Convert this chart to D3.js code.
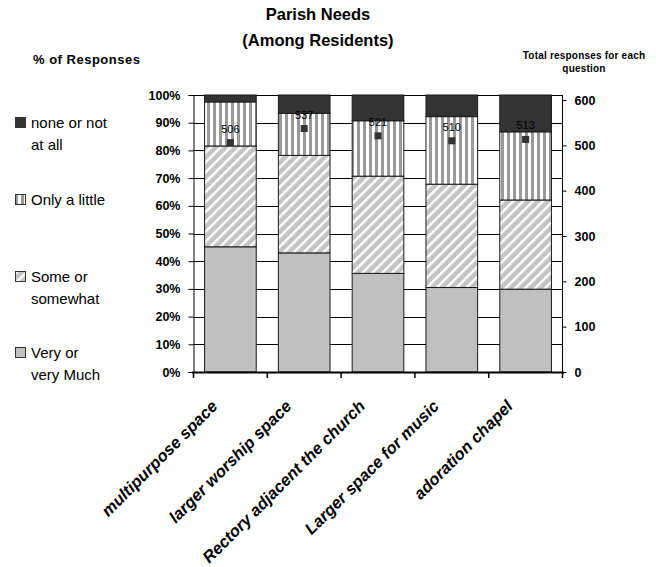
<!DOCTYPE html>
<html>
<head>
<meta charset="utf-8">
<script src="https://cdn.jsdelivr.net/npm/d3@7"></script>
<style>
  body { margin: 0; background: #fff; }
  text { font-family: "Liberation Sans", Arial, sans-serif; }
</style>
</head>
<body>
<div id="theChart"></div>
<script>
// data
const questions = ["multipurpose space", "larger worship space", "Rectory adjacent the church", "Larger space for music", "adoration chapel"]
const veryMuch = [45.2, 43.0, 35.6, 30.5, 29.9]
const somewhat = [36.4, 35.2, 35.1, 37.3, 32.2]
const onlyLittle = [15.9, 15.2, 20.0, 24.4, 24.6]
const noneAtAll = [2.5, 6.6, 9.3, 7.8, 13.3]
const totals = [506, 537, 521, 510, 513]
const pctTicks = [0, 10, 20, 30, 40, 50, 60, 70, 80, 90, 100]
const countTicks = [0, 100, 200, 300, 400, 500, 600]

const seriesNames = ["Very or very Much", "Some or somewhat", "Only a little", "none or not at all"]
const seriesVals = [veryMuch, somewhat, onlyLittle, noneAtAll]
const fills = ["#c0c0c0", "url(#diag)", "url(#vert)", "#333333"]

const w = 656
const h = 567

const svg = d3.select("#theChart")
	.append("svg")
	.attr("width", w)
	.attr("height", h)

// patterns
const defs = svg.append("defs")
const vert = defs.append("pattern")
	.attr("id", "vert")
	.attr("patternUnits", "userSpaceOnUse")
	.attr("width", 6)
	.attr("height", 6)
vert.append("rect").attr("width", 6).attr("height", 6).attr("fill", "#fff")
vert.append("rect").attr("x", 3).attr("width", 3).attr("height", 6).attr("fill", "#999")

const diag = defs.append("pattern")
	.attr("id", "diag")
	.attr("patternUnits", "userSpaceOnUse")
	.attr("width", 7)
	.attr("height", 7)
	.attr("patternTransform", "rotate(45)")
diag.append("rect").attr("width", 7).attr("height", 7).attr("fill", "#c4c4c4")
diag.append("rect").attr("width", 2.4).attr("height", 7).attr("fill", "#fff")

const x = d3.scaleBand()
	.domain(questions)
	.range([193.5, 562.5])
	.paddingInner(0.3)
	.paddingOuter(0.15)

const y = d3.scaleLinear().domain([0, 100]).range([372, 95])
const yR = d3.scaleLinear().domain([0, 600]).range([372, 100])

// gridlines
svg.append("g")
	.selectAll("line")
	.data(pctTicks.slice(1))
	.enter()
	.append("line")
	.attr("x1", 193.5)
	.attr("x2", 562.5)
	.attr("y1", d => Math.round(y(d)) + 0.5)
	.attr("y2", d => Math.round(y(d)) + 0.5)
	.attr("stroke", "#000")
	.attr("stroke-width", 1)

// stacked bars
const stacked = questions.map((q, i) => {
	let base = 0
	return seriesVals.map((s, k) => {
		const seg = { q, k, y0: base, y1: base + s[i] }
		base += s[i]
		return seg
	})
})

const barG = svg.append("g")
stacked.forEach(segs => {
	barG.selectAll(null)
		.data(segs)
		.enter()
		.append("rect")
		.attr("x", d => x(d.q))
		.attr("width", x.bandwidth())
		.attr("y", d => y(Math.min(d.y1, 100)))
		.attr("height", d => y(d.y0) - y(Math.min(d.y1, 100)))
		.attr("fill", d => fills[d.k])
		.attr("stroke", "#1a1a1a")
		.attr("stroke-width", 1)
})

// left axis
const leftAxis = d3.axisLeft(y)
	.tickValues(pctTicks)
	.tickSize(5)
	.tickPadding(8)
	.tickFormat(d => d + "%")
svg.append("g")
	.attr("transform", "translate(193.5,0)")
	.call(leftAxis)
	.call(g => g.select(".domain").attr("stroke", "#000"))
	.call(g => g.selectAll("text")
		.style("font-family", "'Liberation Sans', Arial, sans-serif")
		.style("font-size", "12.5px")
		.style("font-weight", "bold")
		.attr("fill", "#000"))

// right axis
const rightAxis = d3.axisRight(yR)
	.tickValues(countTicks)
	.tickSize(4)
	.tickPadding(8)
svg.append("g")
	.attr("transform", "translate(562.5,0)")
	.call(rightAxis)
	.call(g => g.select(".domain").attr("d", "M0,95V372"))
	.call(g => g.selectAll("text")
		.style("font-family", "'Liberation Sans', Arial, sans-serif")
		.style("font-size", "12.5px")
		.style("font-weight", "bold")
		.attr("fill", "#000"))

// x axis with ticks at category boundaries
const step = x.step()
const bounds = d3.range(questions.length + 1).map(i => 193.5 + i * step)
const xAxisG = svg.append("g")
xAxisG.append("line")
	.attr("x1", 192)
	.attr("x2", 564)
	.attr("y1", 372.5)
	.attr("y2", 372.5)
	.attr("stroke", "#000")
	.attr("stroke-width", 2.2)
xAxisG.selectAll("line.tk")
	.data(bounds)
	.enter()
	.append("line")
	.attr("class", "tk")
	.attr("x1", d => d)
	.attr("x2", d => d)
	.attr("y1", 372)
	.attr("y2", 378)
	.attr("stroke", "#000")
	.attr("stroke-width", 1.5)

xAxisG.selectAll("text")
	.data(questions)
	.enter()
	.append("text")
	.attr("transform", d => `translate(${x(d) + x.bandwidth() / 2 - 20},${399}) rotate(-45)`)
	.attr("text-anchor", "end")
	.attr("dy", "0.7em")
	.style("font-size", "16.5px")
	.style("font-weight", "bold")
	.style("font-style", "italic")
	.text(d => d)

// total responses markers
const cx = d => x(d) + x.bandwidth() / 2
svg.append("g")
	.selectAll("rect")
	.data(questions)
	.enter()
	.append("rect")
	.attr("x", d => cx(d) - 3.5)
	.attr("y", (d, i) => yR(totals[i]) - 3.5)
	.attr("width", 7)
	.attr("height", 7)
	.attr("fill", "#333")

svg.append("g")
	.selectAll("text")
	.data(questions)
	.enter()
	.append("text")
	.attr("x", cx)
	.attr("y", (d, i) => yR(totals[i]) - 10)
	.attr("text-anchor", "middle")
	.style("font-size", "11px")
	.attr("fill", "#000")
	.text((d, i) => totals[i])

// titles
const title = svg.append("g").style("font-weight", "bold").style("font-size", "16.5px")
title.append("text").attr("x", 318).attr("y", 20).attr("text-anchor", "middle").text("Parish Needs")
title.append("text").attr("x", 318).attr("y", 46).attr("text-anchor", "middle").text("(Among Residents)")

svg.append("text")
	.attr("x", 33)
	.attr("y", 64)
	.style("font-size", "13px")
	.style("font-weight", "bold")
	.style("letter-spacing", "0.5px")
	.text("% of Responses")

const rt = svg.append("g").style("font-size", "10px").style("font-weight", "bold").style("letter-spacing", "0.2px")
rt.append("text").attr("x", 584).attr("y", 59).attr("text-anchor", "middle").text("Total responses for each")
rt.append("text").attr("x", 584).attr("y", 72).attr("text-anchor", "middle").text("question")

// legend
const legendItems = [
	{ k: 3, lines: ["none or not", "at all"], y: 123 },
	{ k: 2, lines: ["Only a little"], y: 200 },
	{ k: 1, lines: ["Some or", "somewhat"], y: 277 },
	{ k: 0, lines: ["Very or", "very Much"], y: 353 },
]
const legend = svg.append("g").attr("id", "legend")
legendItems.forEach(item => {
	legend.append("rect")
		.attr("x", 15.5)
		.attr("y", item.y - 5.5)
		.attr("width", 10)
		.attr("height", 10)
		.attr("fill", fills[item.k])
		.attr("stroke", "#333")
	item.lines.forEach((t, j) => {
		legend.append("text")
			.attr("x", 31)
			.attr("y", item.y + j * 22)
			.attr("dy", "0.36em")
			.style("font-size", "15px")
			.text(t)
	})
})
</script>
</body>
</html>
